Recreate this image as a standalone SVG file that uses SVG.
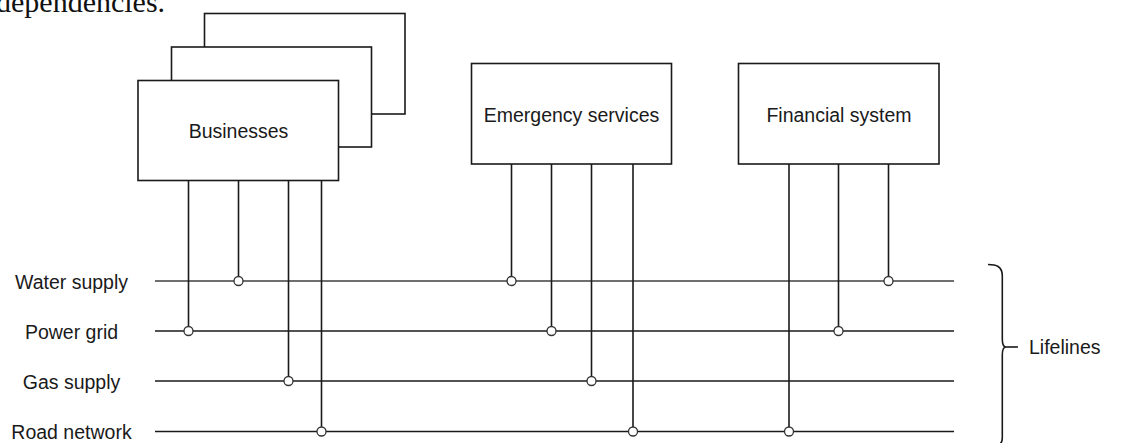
<svg xmlns="http://www.w3.org/2000/svg" width="1126" height="443" viewBox="0 0 1126 443">
<style>
.box{fill:#fff;stroke:#1a1a1a;stroke-width:1.6}
.lbl{font-family:"Liberation Sans",Arial,sans-serif;font-size:19.5px;fill:#1a1a1a}
.mid{text-anchor:middle}
.wire{stroke:#1a1a1a;stroke-width:1.6;fill:none}
.life{stroke:#1a1a1a;stroke-width:1.6}
.tap{fill:#fff;stroke:#333;stroke-width:1.3}
</style>
<rect width="1126" height="443" fill="#fff"/>
<text x="-4" y="12" style="font-family:'Liberation Serif','Times New Roman',serif;font-size:30px;fill:#111">dependencies.</text>

<g id="lifelines">
  <g id="water-supply">
    <line x1="155" y1="281" x2="954" y2="281" stroke="#6f6f6f" stroke-width="2"/>
    <text class="lbl mid" x="71.5" y="288.5">Water supply</text>
  </g>
  <g id="power-grid">
    <line class="life" x1="155" y1="331" x2="954" y2="331"/>
    <text class="lbl mid" x="71.5" y="338.5">Power grid</text>
  </g>
  <g id="gas-supply">
    <line class="life" x1="155" y1="381" x2="954" y2="381"/>
    <text class="lbl mid" x="71.5" y="388.5">Gas supply</text>
  </g>
  <g id="road-network">
    <line class="life" x1="155" y1="431.5" x2="954" y2="431.5"/>
    <text class="lbl mid" x="71.5" y="439">Road network</text>
  </g>
</g>

<g id="businesses">
  <rect class="box" x="204.5" y="13.5" width="200.5" height="100.5"/>
  <rect class="box" x="171.5" y="47" width="200" height="100"/>
  <rect class="box" x="138" y="80.5" width="200.5" height="100"/>
  <text class="lbl mid" x="238.5" y="137.5">Businesses</text>
</g>

<g id="emergency-services">
  <rect class="box" x="471.5" y="63.5" width="200" height="100.5"/>
  <text class="lbl mid" x="571.5" y="121.5">Emergency services</text>
</g>

<g id="financial-system">
  <rect class="box" x="738.5" y="63.5" width="200.5" height="100.5"/>
  <text class="lbl mid" x="839" y="121.5">Financial system</text>
</g>

<g id="connectors">
  <line class="wire" x1="188.5" y1="180.5" x2="188.5" y2="326.5"/>
  <line class="wire" x1="238.5" y1="180.5" x2="238.5" y2="276.5"/>
  <line class="wire" x1="288.5" y1="180.5" x2="288.5" y2="376.5"/>
  <line class="wire" x1="321.5" y1="180.5" x2="321.5" y2="427"/>
  <line class="wire" x1="511.5" y1="164" x2="511.5" y2="276.5"/>
  <line class="wire" x1="551.5" y1="164" x2="551.5" y2="326.5"/>
  <line class="wire" x1="591.5" y1="164" x2="591.5" y2="376.5"/>
  <line class="wire" x1="633" y1="164" x2="633" y2="427"/>
  <line class="wire" x1="789" y1="164" x2="789" y2="427"/>
  <line class="wire" x1="838.5" y1="164" x2="838.5" y2="326.5"/>
  <line class="wire" x1="888.5" y1="164" x2="888.5" y2="276.5"/>
  <circle class="tap" cx="188.5" cy="331" r="4.5"/>
  <circle class="tap" cx="238.5" cy="281" r="4.5"/>
  <circle class="tap" cx="288.5" cy="381" r="4.5"/>
  <circle class="tap" cx="321.5" cy="431.5" r="4.5"/>
  <circle class="tap" cx="511.5" cy="281" r="4.5"/>
  <circle class="tap" cx="551.5" cy="331" r="4.5"/>
  <circle class="tap" cx="591.5" cy="381" r="4.5"/>
  <circle class="tap" cx="633" cy="431.5" r="4.5"/>
  <circle class="tap" cx="789" cy="431.5" r="4.5"/>
  <circle class="tap" cx="838.5" cy="331" r="4.5"/>
  <circle class="tap" cx="888.5" cy="281" r="4.5"/>
</g>

<g id="lifelines-brace">
  <path class="wire" d="M988,264.5 C996,264.5 1002.3,266 1002.3,276 L1002.3,339 C1002.3,344 1004,347 1006,347 C1004,347 1002.3,350 1002.3,355 L1002.3,438 C1002.3,444 998,447 990,447"/>
  <line class="wire" x1="1006" y1="347" x2="1018" y2="347"/>
  <text class="lbl" x="1029" y="354">Lifelines</text>
</g>
</svg>
